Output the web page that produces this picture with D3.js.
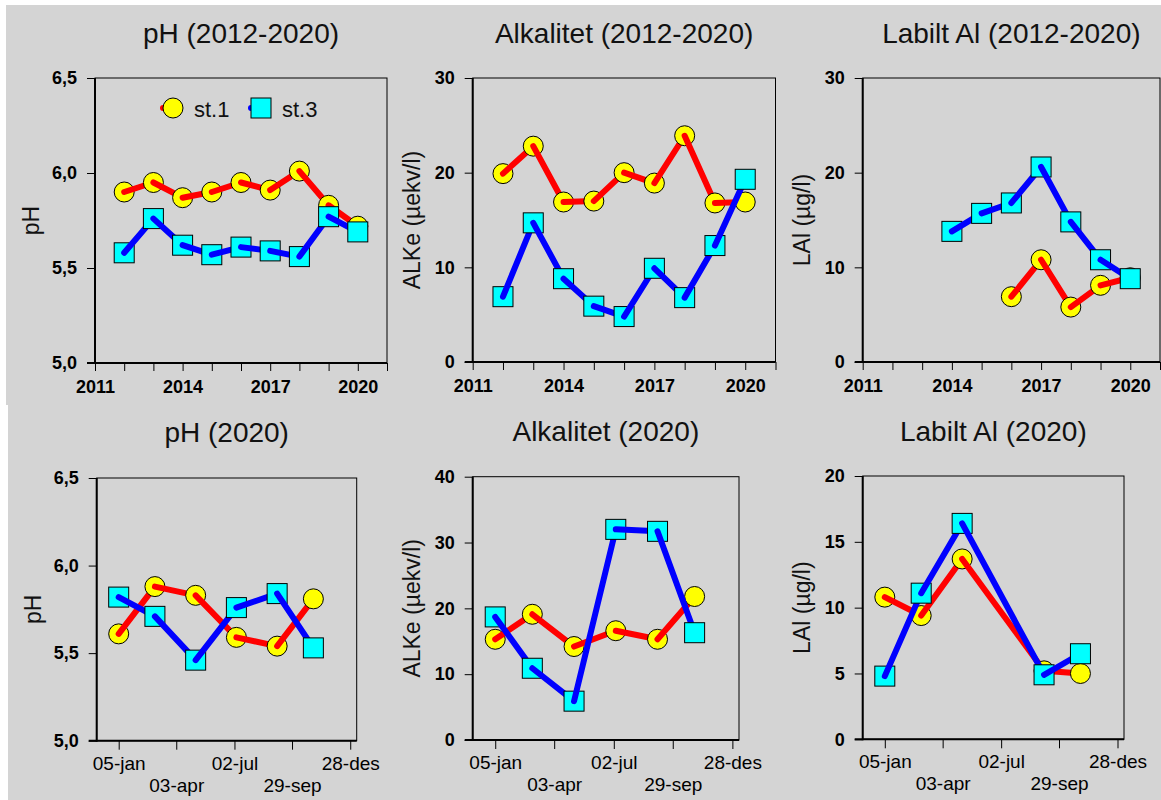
<!DOCTYPE html>
<html>
<head>
<meta charset="utf-8" />
<title>pH, alkalitet og labilt Al</title>
<script src="https://d3js.org/d3.v7.min.js"></script>
<style>
  body { margin: 0; background: #fff; }
  svg { display: block; font-family: "Liberation Sans", Arial, sans-serif; }
</style>
</head>
<body>
<svg id="chart" width="1161" height="800"></svg>
<script>
// --- data ---
var years = [2012, 2013, 2014, 2015, 2016, 2017, 2018, 2019, 2020];
var yearTicks = [2011, 2012, 2013, 2014, 2015, 2016, 2017, 2018, 2019, 2020, 2021];
var yearLabels = [2011, 2014, 2017, 2020];

var phSt1 = [5.90, 5.95, 5.87, 5.90, 5.95, 5.91, 6.01, 5.83, 5.72];
var phSt3 = [5.58, 5.76, 5.62, 5.57, 5.61, 5.59, 5.56, 5.77, 5.69];
var alkSt1 = [19.9, 22.8, 16.9, 17.0, 20.0, 18.9, 23.9, 16.8, 16.9];
var alkSt3 = [6.9, 14.7, 8.8, 5.9, 4.8, 9.9, 6.8, 12.3, 19.3];
var lalSt1 = [null, null, null, null, 6.9, 10.8, 5.8, 8.1, 8.9];
var lalSt3 = [null, null, 13.8, 15.7, 16.8, 20.6, 14.8, 10.8, 8.8];

var sampleDates = ["2020-01-05", "2020-03-01", "2020-05-03", "2020-07-05", "2020-09-06", "2020-11-01"];
var dateTicks = ["2020-01-05", "2020-04-03", "2020-07-02", "2020-09-29", "2020-12-28"];
var dateTickLabels = ["05-jan", "03-apr", "02-jul", "29-sep", "28-des"];

var ph20St1 = [5.61, 5.88, 5.83, 5.59, 5.54, 5.81];
var ph20St3 = [5.82, 5.71, 5.46, 5.76, 5.84, 5.53];
var alk20St1 = [15.3, 19.1, 14.2, 16.6, 15.3, 21.8];
var alk20St3 = [18.7, 10.9, 5.9, 32.0, 31.7, 16.3];
var lal20St1 = [10.8, 9.4, 13.7, null, 5.2, 5.0];
var lal20St3 = [4.8, 11.1, 16.4, null, 4.9, 6.5];

var phTicks = [5.0, 5.5, 6.0, 6.5];
var alkTicks = [0, 10, 20, 30];
var lalTicks = [0, 10, 20, 30];
var alk20Ticks = [0, 10, 20, 30, 40];
var lal20Ticks = [0, 5, 10, 15, 20];

var seriesNames = ["st.1", "st.3"];

// --- styles ---
var bg = "#d4d4d4";
var red = "#ff0000", blue = "#0000ff", yellow = "#ffff00", cyan = "#00ffff";
var commaFmt = function(d) { return d3.format(".1f")(d).replace(".", ","); };
var intFmt = d3.format("d");
var parse = d3.timeParse("%Y-%m-%d");
var dateDomain = [new Date(2019, 11, 2), new Date(2021, 0, 7)];

var svg = d3.select("#chart");
svg.append("rect").attr("x", 6).attr("y", 5).attr("width", 1155).attr("height", 400).attr("fill", bg);
svg.append("rect").attr("x", 8).attr("y", 405).attr("width", 1153).attr("height", 395).attr("fill", bg);

// box = [left, top, right, bottom]
var panels = [
  {title: "pH (2012-2020)", ylabel: "pH", box: [95, 78, 387, 363], yDomain: [5, 6.5], yTicks: phTicks, fmt: commaFmt,
   kind: "year", xs: years, s1: phSt1, s3: phSt3, titleY: 43, labOff: 56, legend: true},
  {title: "Alkalitet (2012-2020)", ylabel: "ALKe (\u00b5ekv/l)", box: [472.7, 78, 775.5, 362], yDomain: [0, 30], yTicks: alkTicks, fmt: intFmt,
   kind: "year", xs: years, s1: alkSt1, s3: alkSt3, titleY: 43, labOff: 53},
  {title: "Labilt Al (2012-2020)", ylabel: "LAl (\u00b5g/l)", box: [862.7, 78, 1160, 362], yDomain: [0, 30], yTicks: lalTicks, fmt: intFmt,
   kind: "year", xs: years, s1: lalSt1, s3: lalSt3, titleY: 43, labOff: 53},
  {title: "pH (2020)", ylabel: "pH", box: [96.7, 478, 356.7, 740.7], yDomain: [5, 6.5], yTicks: phTicks, fmt: commaFmt,
   kind: "date", xs: sampleDates, s1: ph20St1, s3: ph20St3, titleY: 442, labOff: 56},
  {title: "Alkalitet (2020)", ylabel: "ALKe (\u00b5ekv/l)", box: [472.7, 476.7, 739, 740], yDomain: [0, 40], yTicks: alk20Ticks, fmt: intFmt,
   kind: "date", xs: sampleDates, s1: alk20St1, s3: alk20St3, titleY: 441, labOff: 53},
  {title: "Labilt Al (2020)", ylabel: "LAl (\u00b5g/l)", box: [862.7, 476, 1124, 739.3], yDomain: [0, 20], yTicks: lal20Ticks, fmt: intFmt,
   kind: "date", xs: sampleDates, s1: lal20St1, s3: lal20St3, titleY: 441, labOff: 53}
];

function drawMarker(g, cx, cy, shape) {
  if (shape === "circle") {
    g.append("circle").attr("cx", cx).attr("cy", cy).attr("r", 10)
      .attr("fill", yellow).attr("stroke", "#000").attr("stroke-width", 1);
  } else {
    g.append("rect").attr("x", cx - 10).attr("y", cy - 10).attr("width", 20).attr("height", 20)
      .attr("fill", cyan).attr("stroke", "#000").attr("stroke-width", 1);
  }
}

// marker i, then segment i -> i+1, so each outgoing line sits over its marker
function drawSeries(g, xs, vals, x, y, color, shape) {
  var pts = [];
  xs.forEach(function(d, i) {
    if (vals[i] != null) pts.push([x(d), y(vals[i])]);
  });
  pts.forEach(function(p, i) {
    drawMarker(g, p[0], p[1], shape);
    if (i < pts.length - 1) {
      g.append("line")
        .attr("x1", p[0]).attr("y1", p[1])
        .attr("x2", pts[i + 1][0]).attr("y2", pts[i + 1][1])
        .attr("stroke", color).attr("stroke-width", 6).attr("stroke-linecap", "round");
    }
  });
}

panels.forEach(function(p) {
  var L = p.box[0], T = p.box[1], R = p.box[2], B = p.box[3];
  var g = svg.append("g");

  var y = d3.scaleLinear().domain(p.yDomain).range([B, T]);
  var x, xs;
  if (p.kind === "year") {
    x = d3.scaleLinear().domain([2011, 2021]).range([L, R]);
    xs = p.xs;
  } else {
    x = d3.scaleTime().domain(dateDomain).range([L, R]);
    xs = p.xs.map(parse);
  }

  // title
  g.append("text").attr("x", (L + R) / 2).attr("y", p.titleY)
    .attr("text-anchor", "middle").attr("font-size", 28).attr("fill", "#111")
    .text(p.title);

  // y label
  g.append("text")
    .attr("transform", "translate(" + (L - p.labOff) + "," + ((T + B) / 2) + ") rotate(-90)")
    .attr("text-anchor", "middle").attr("font-size", 23).attr("fill", "#111")
    .text(p.ylabel);

  // frame
  g.append("rect").attr("x", L).attr("y", T).attr("width", R - L).attr("height", B - T)
    .attr("fill", "none").attr("stroke", "#000").attr("stroke-width", 1);

  // y axis
  var yAxis = d3.axisLeft(y).tickValues(p.yTicks).tickSize(8).tickPadding(10).tickFormat(p.fmt);
  var ya = g.append("g").attr("transform", "translate(" + L + ",0)").call(yAxis);
  ya.select(".domain").remove();
  ya.selectAll("text").attr("font-size", 18).attr("font-weight", "bold")
    .attr("font-family", "'Liberation Sans', Arial, sans-serif").attr("fill", "#000");

  // x axis
  var xa;
  if (p.kind === "year") {
    var xAxis = d3.axisBottom(x).tickValues(yearTicks).tickSize(8).tickPadding(9)
      .tickFormat(function(d) { return yearLabels.indexOf(d) >= 0 ? d : ""; });
    xa = g.append("g").attr("transform", "translate(0," + B + ")").call(xAxis);
    xa.selectAll("text").attr("font-size", 18).attr("font-weight", "bold");
  } else {
    var xAxis2 = d3.axisBottom(x).tickValues(dateTicks.map(parse)).tickSize(9).tickPadding(6.5)
      .tickFormat(function(d, i) { return dateTickLabels[i]; });
    xa = g.append("g").attr("transform", "translate(0," + B + ")").call(xAxis2);
    xa.selectAll("text").attr("font-size", 19)
      .attr("dy", function(d, i) { return i % 2 ? "1.87em" : "0.71em"; });
  }
  xa.select(".domain").remove();
  xa.selectAll("text").attr("font-family", "'Liberation Sans', Arial, sans-serif").attr("fill", "#000");

  // heavier left and bottom axis lines
  g.append("line").attr("x1", L).attr("x2", L).attr("y1", T).attr("y2", B + 1)
    .attr("stroke", "#000").attr("stroke-width", 2);
  g.append("line").attr("x1", L - 8).attr("x2", R).attr("y1", B).attr("y2", B)
    .attr("stroke", "#000").attr("stroke-width", 2);

  // series
  drawSeries(g.append("g"), xs, p.s1, x, y, red, "circle");
  drawSeries(g.append("g"), xs, p.s3, x, y, blue, "square");

  // legend
  if (p.legend) {
    var lg = g.append("g");
    var ly = T + 30;
    [[L + 78, red, "circle"], [L + 166, blue, "square"]].forEach(function(e, i) {
      lg.append("line").attr("x1", e[0] - 10).attr("x2", e[0]).attr("y1", ly).attr("y2", ly)
        .attr("stroke", e[1]).attr("stroke-width", 6).attr("stroke-linecap", "round");
      drawMarker(lg, e[0], ly, e[2]);
      lg.append("text").attr("x", e[0] + 21).attr("y", ly + 8.5)
        .attr("font-size", 22).attr("fill", "#111").text(seriesNames[i]);
    });
  }
});
</script>
</body>
</html>
